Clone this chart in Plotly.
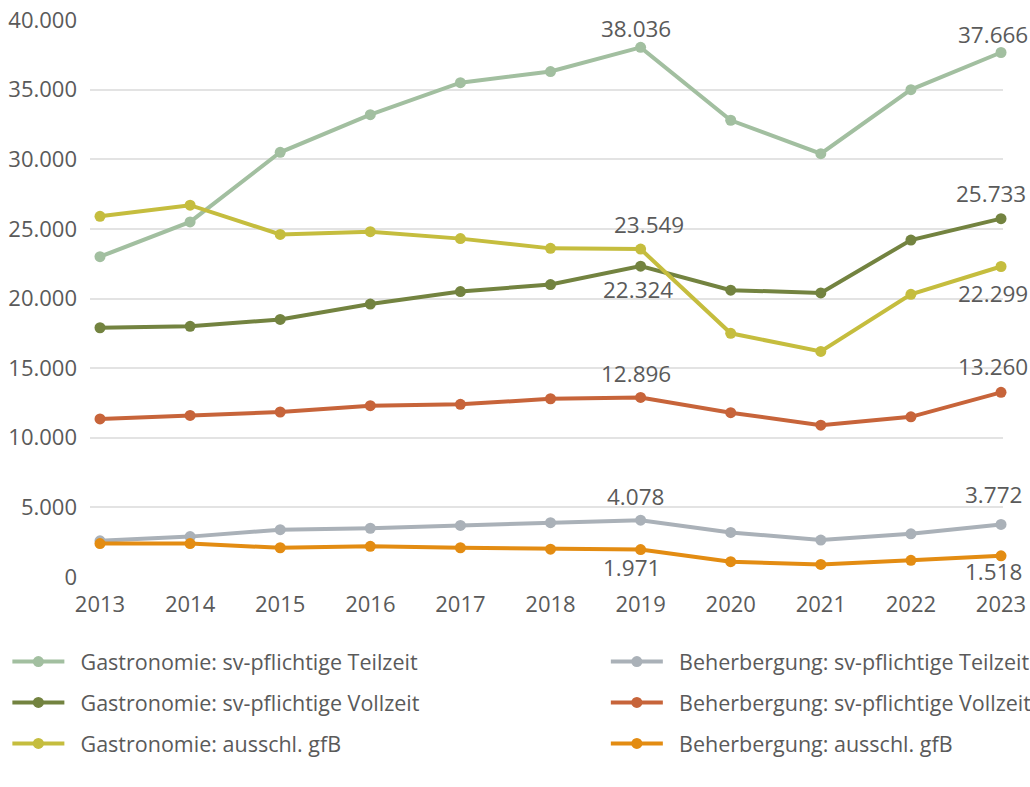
import plotly.graph_objects as go

years = [2013, 2014, 2015, 2016, 2017, 2018, 2019, 2020, 2021, 2022, 2023]

gastro_teilzeit = [23000, 25500, 30500, 33200, 35500, 36300, 38036, 32800, 30400, 35000, 37666]
gastro_vollzeit = [17900, 18000, 18500, 19600, 20500, 21000, 22324, 20600, 20400, 24200, 25733]
gastro_gfb = [25900, 26700, 24600, 24800, 24300, 23600, 23549, 17500, 16200, 20300, 22299]
beh_teilzeit = [2600, 2900, 3400, 3500, 3700, 3900, 4078, 3200, 2650, 3100, 3772]
beh_vollzeit = [11350, 11600, 11850, 12300, 12400, 12800, 12896, 11800, 10900, 11500, 13260]
beh_gfb = [2400, 2400, 2100, 2200, 2100, 2000, 1971, 1100, 900, 1200, 1518]

names = [
    "Gastronomie: sv-pflichtige Teilzeit",
    "Gastronomie: sv-pflichtige Vollzeit",
    "Gastronomie: ausschl. gfB",
    "Beherbergung: sv-pflichtige Teilzeit",
    "Beherbergung: sv-pflichtige Vollzeit",
    "Beherbergung: ausschl. gfB",
]
series = [gastro_teilzeit, gastro_vollzeit, gastro_gfb, beh_teilzeit, beh_vollzeit, beh_gfb]
colors = ["#a2bfa0", "#738340", "#c5bd3e", "#aab1b8", "#c7643a", "#e38c12"]
legends = ["legend", "legend", "legend", "legend2", "legend2", "legend2"]

# labels: (series index, year index, vertical offset in px, horizontal offset)
labels = [
    (0, 6, 19, -5), (0, 10, 18, -8),
    (1, 6, -23, -3), (1, 10, 25, -10),
    (2, 6, 25, 8), (2, 10, -27, -8),
    (3, 6, 24, -5), (3, 10, 30, -8),
    (4, 6, 24, -5), (4, 10, 26, -8),
    (5, 6, -18, -9), (5, 10, -16, -8),
]

FONT = "Open Sans"
TXT = "#5a5a5a"

fig = go.Figure()
for i, (n, s, c, lg) in enumerate(zip(names, series, colors, legends)):
    fig.add_trace(go.Scatter(
        x=years, y=s, name="\u00a0\u00a0" + n, mode="lines+markers",
        line=dict(color=c, width=4),
        marker=dict(color=c, size=11),
        cliponaxis=False,
        legend=lg, legendgroup=str(i),
    ))

def fmt(v):
    return f"{v:,}".replace(",", ".")

for si, yi, dy, dx in labels:
    fig.add_annotation(
        x=years[yi], y=series[si][yi], text=fmt(series[si][yi]),
        showarrow=False, yshift=dy, xshift=dx, yanchor="middle",
        font=dict(family=FONT, size=22.5, color=TXT),
    )

fig.update_layout(
    width=1030, height=787,
    margin=dict(l=90, r=27, t=20, b=210, autoexpand=False),
    plot_bgcolor="white", paper_bgcolor="white",
    font=dict(family=FONT, size=22, color=TXT),
    xaxis=dict(
        range=[2012.889, 2023.022], tickmode="array", tickvals=years,
        showgrid=False, zeroline=False, showline=False, automargin=False,
        ticklabelstandoff=12, tickfont=dict(size=22, color=TXT),
    ),
    yaxis=dict(
        range=[0, 40000], tickvals=[0, 5000, 10000, 15000, 20000, 25000, 30000, 35000, 40000],
        ticktext=["0", "5.000", "10.000", "15.000", "20.000", "25.000", "30.000", "35.000", "40.000"],
        showgrid=True, gridcolor="#e3e3e3", gridwidth=1.5, zeroline=False, automargin=False,
        ticklabelstandoff=12, tickfont=dict(size=22, color=TXT),
    ),
    legend=dict(
        x=-0.0905, y=-0.115, xanchor="left", yanchor="top", orientation="v",
        font=dict(family=FONT, size=21.5, color=TXT), tracegroupgap=10,
        itemwidth=52, bgcolor="rgba(0,0,0,0)",
    ),
    legend2=dict(
        x=0.565, y=-0.115, xanchor="left", yanchor="top", orientation="v",
        font=dict(family=FONT, size=21.5, color=TXT), tracegroupgap=10,
        itemwidth=52, bgcolor="rgba(0,0,0,0)",
    ),
)

fig.write_html(
    "out.html",
    config={"displayModeBar": False},
    post_script="document.body.style.margin='0';document.body.style.overflow='hidden';",
)
